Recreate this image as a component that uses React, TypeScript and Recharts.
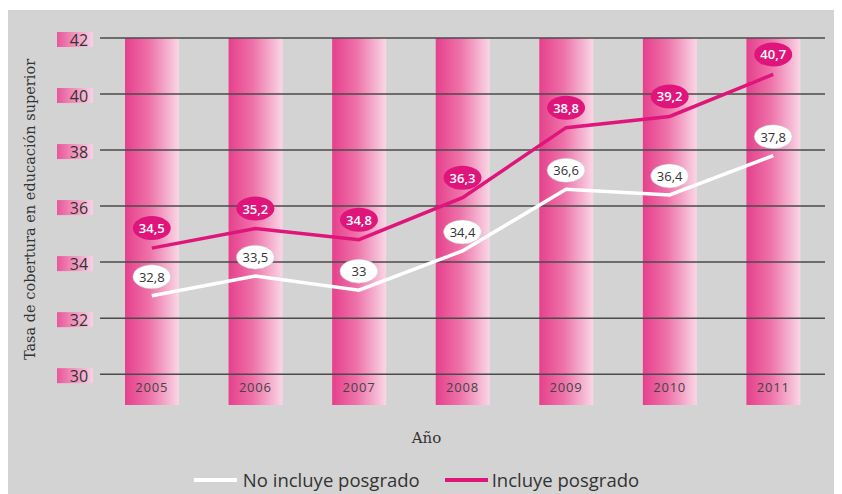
import React from 'react';
import {
  ComposedChart,
  Bar,
  Line,
  XAxis,
  YAxis,
  ReferenceLine,
  LabelList,
  Legend,
  Label
} from 'recharts';

const years = ['2005', '2006', '2007', '2008', '2009', '2010', '2011'];
const noIncluye = [32.8, 33.5, 33.0, 34.4, 36.6, 36.4, 37.8];
const incluye = [34.5, 35.2, 34.8, 36.3, 38.8, 39.2, 40.7];
const yTicks = [30, 32, 34, 36, 38, 40, 42];

const PINK = '#e0157c';
const SANS = '"Open Sans", Lato, sans-serif';
const SERIF = '"DejaVu Serif", serif';

const data = years.map((year, i) => ({
  year,
  noIncluye: noIncluye[i],
  incluye: incluye[i]
}));

const fmt = (v: number) => String(v).replace('.', ',');

// columna rosada de fondo
const ColumnBg = (props: any) => {
  const { x, y, width, height } = props;
  return <rect x={x} y={y} width={width} height={height} fill="url(#colGrad)" />;
};

const YTick = (props: any) => {
  const { x, y, payload } = props;
  return (
    <g>
      <rect x={x - 43} y={y - 6} width={36} height={15} fill="url(#tickGrad)" />
      <text
        x={x - 21}
        y={y + 2}
        textAnchor="middle"
        dominantBaseline="central"
        fill="#333"
        fontSize={16}
        fontFamily={SANS}
      >
        {payload.value}
      </text>
    </g>
  );
};

const XTick = (props: any) => {
  const { x, y, payload } = props;
  return (
    <text
      x={x}
      y={y - 18}
      textAnchor="middle"
      dominantBaseline="central"
      fill="#444"
      fontSize={13}
      letterSpacing={0.8}
      fontFamily={SANS}
    >
      {payload.value}
    </text>
  );
};

const PinkBadge = (props: any) => {
  const { x, y, value } = props;
  return (
    <g>
      <ellipse cx={x} cy={y - 20} rx={19} ry={12} fill={PINK} />
      <text
        x={x}
        y={y - 20}
        textAnchor="middle"
        dominantBaseline="central"
        fill="#fff"
        fontSize={13}
        fontWeight={600}
        fontFamily={SANS}
      >
        {fmt(value)}
      </text>
    </g>
  );
};

const WhiteBadge = (props: any) => {
  const { x, y, value } = props;
  return (
    <g>
      <ellipse cx={x} cy={y - 19} rx={19} ry={12} fill="#fff" stroke="#bbb" strokeWidth={0.5} />
      <text
        x={x}
        y={y - 19}
        textAnchor="middle"
        dominantBaseline="central"
        fill="#333"
        fontSize={13}
        fontFamily={SANS}
      >
        {fmt(value)}
      </text>
    </g>
  );
};

const LegendContent = () => (
  <div
    style={{
      display: 'flex',
      justifyContent: 'center',
      alignItems: 'center',
      height: 29,
      fontFamily: SANS,
      fontSize: 18.5,
      color: '#333'
    }}
  >
    <span style={{ display: 'inline-block', width: 43, height: 4, background: '#fff', marginRight: 6 }} />
    <span style={{ marginRight: 25 }}>No incluye posgrado</span>
    <span style={{ display: 'inline-block', width: 43, height: 4, background: PINK, marginRight: 4 }} />
    <span>Incluye posgrado</span>
  </div>
);

export default function App() {
  return (
    <div style={{ width: 834, height: 484, marginTop: 2, background: '#d3d3d3' }}>
      <ComposedChart
        width={834}
        height={484}
        data={data}
        margin={{ top: 28, right: 17, bottom: 0, left: 0 }}
      >
        <defs>
          <linearGradient id="colGrad" x1="0" y1="0" x2="1" y2="0">
            <stop offset="0%" stopColor="#e6408c" />
            <stop offset="45%" stopColor="#ee72a9" />
            <stop offset="100%" stopColor="#f9d7e6" />
          </linearGradient>
          <linearGradient id="tickGrad" x1="0" y1="0" x2="1" y2="0">
            <stop offset="0%" stopColor="#e8579a" />
            <stop offset="100%" stopColor="#f7d3e3" />
          </linearGradient>
        </defs>
        <XAxis
          dataKey="year"
          axisLine={false}
          tickLine={false}
          tickSize={0}
          tickMargin={0}
          height={60}
          tick={<XTick />}
        >
          <Label
            content={(p: any) => {
              const vb = p.viewBox || {};
              return (
                <text
                  x={vb.x + vb.width / 2 - 36}
                  y={vb.y + 33}
                  textAnchor="middle"
                  dominantBaseline="central"
                  fill="#333"
                  fontSize={15}
                  fontFamily={SERIF}
                >
                  Año
                </text>
              );
            }}
          />
        </XAxis>
        <YAxis
          domain={[28.9, 42]}
          ticks={yTicks}
          axisLine={false}
          tickLine={false}
          tickSize={0}
          tickMargin={0}
          width={92}
          tick={<YTick />}
        >
          <Label
            content={(p: any) => {
              const vb = p.viewBox || {};
              const cy = vb.y + vb.height / 2 - 12;
              return (
                <text
                  x={22}
                  y={cy}
                  transform={`rotate(-90, 22, ${cy})`}
                  textAnchor="middle"
                  dominantBaseline="central"
                  fill="#333"
                  fontSize={14.5}
                  fontFamily={SERIF}
                >
                  Tasa de cobertura en educación superior
                </text>
              );
            }}
          />
        </YAxis>
        <Bar
          dataKey="incluye"
          barSize={54}
          background={(props: any) => <ColumnBg {...props} />}
          shape={() => <g />}
          isAnimationActive={false}
          legendType="none"
        />
        {yTicks.map((t) => (
          <ReferenceLine key={t} y={t} stroke="#4a4a4a" strokeWidth={1.5} />
        ))}
        <Line
          dataKey="noIncluye"
          stroke="#ffffff"
          strokeWidth={3.5}
          dot={false}
          isAnimationActive={false}
        >
          <LabelList dataKey="noIncluye" content={<WhiteBadge />} />
        </Line>
        <Line
          dataKey="incluye"
          stroke={PINK}
          strokeWidth={3.5}
          dot={false}
          isAnimationActive={false}
        >
          <LabelList dataKey="incluye" content={<PinkBadge />} />
        </Line>
        <Legend verticalAlign="bottom" height={29} content={<LegendContent />} />
      </ComposedChart>
    </div>
  );
}
